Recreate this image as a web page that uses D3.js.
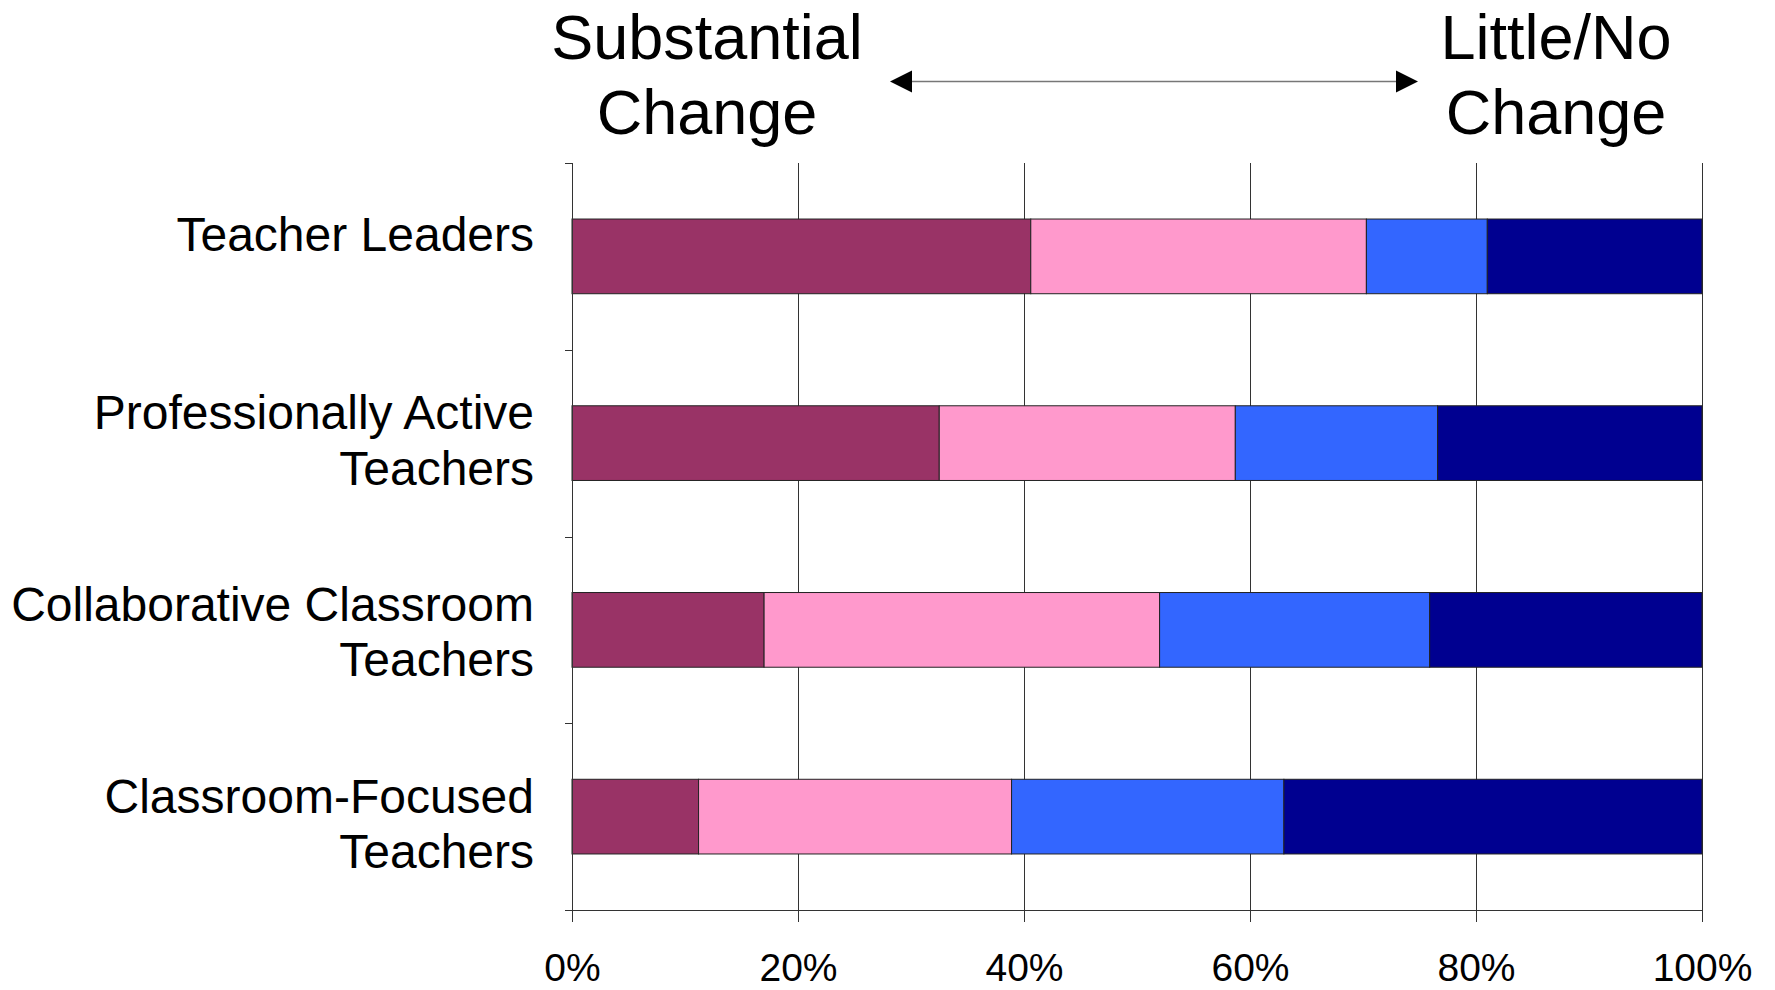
<!DOCTYPE html>
<html>
<head>
<meta charset="utf-8">
<script src="https://cdn.jsdelivr.net/npm/d3@7"></script>
<style>
  html, body { margin: 0; padding: 0; background: #fff; }
  svg { display: block; font-family: "Liberation Sans", Arial, Helvetica, sans-serif; }
</style>
</head>
<body>
<svg id="chart" width="1775" height="990"></svg>
<script>
// ---- Data ----
const categories = ["Teacher Leaders", "Professionally Active Teachers", "Collaborative Classroom Teachers", "Classroom-Focused Teachers"];
const categoryLines = [["Teacher Leaders"], ["Professionally Active", "Teachers"], ["Collaborative Classroom", "Teachers"], ["Classroom-Focused", "Teachers"]];
const seriesKeys = ["level1", "level2", "level3", "level4"];
const level1 = [40.6, 32.5, 17.0, 11.2];
const level2 = [29.7, 26.2, 35.0, 27.7];
const level3 = [10.7, 17.9, 23.9, 24.1];
const level4 = [19.0, 23.4, 24.1, 37.0];
const seriesColors = ["#993366", "#FF99CC", "#3366FF", "#000090"];
const tickValues = [0, 20, 40, 60, 80, 100];
const tickLabels = ["0%", "20%", "40%", "60%", "80%", "100%"];
const leftTitle = ["Substantial", "Change"];
const rightTitle = ["Little/No", "Change"];

// ---- Layout ----
const svg = d3.select("#chart");
const plot = { left: 572, right: 1702, top: 163, bottom: 910 };

const rows = categories.map((c, i) => ({
  category: c, level1: level1[i], level2: level2[i], level3: level3[i], level4: level4[i]
}));

const x = d3.scaleLinear().domain([0, 100]).range([plot.left, plot.right]);
const y = d3.scaleBand().domain(categories).range([plot.top, plot.bottom])
  .paddingInner(0.6).paddingOuter(0.3);
const color = d3.scaleOrdinal().domain(seriesKeys).range(seriesColors);

// gridlines
svg.append("g").selectAll("line")
  .data(tickValues.filter(v => v > 0))
  .join("line")
  .attr("x1", d => Math.round(x(d)) + 0.5).attr("x2", d => Math.round(x(d)) + 0.5)
  .attr("y1", plot.top).attr("y2", plot.bottom)
  .attr("stroke", "#333").attr("stroke-width", 1);

// bars
const stacked = d3.stack().keys(seriesKeys)(rows);
svg.append("g").selectAll("g")
  .data(stacked)
  .join("g")
  .attr("fill", d => color(d.key))
  .selectAll("rect")
  .data(d => d)
  .join("rect")
  .attr("x", d => x(d[0]))
  .attr("y", d => y(d.data.category))
  .attr("width", d => x(d[1]) - x(d[0]))
  .attr("height", y.bandwidth())
  .attr("stroke", "#222")
  .attr("stroke-width", 1);

// bottom axis
const xAxis = d3.axisBottom(x).tickValues(tickValues)
  .tickFormat((d, i) => tickLabels[i]).tickSize(12).tickSizeOuter(0).tickPadding(31);
const gx = svg.append("g").attr("transform", `translate(0,${plot.bottom})`).call(xAxis);
gx.select(".domain").attr("stroke", "#333");
gx.selectAll(".tick line").attr("stroke", "#333");
gx.selectAll(".tick text")
  .attr("font-size", 39).attr("fill", "#000")
  .attr("font-family", "'Liberation Sans', Arial, sans-serif");

// left axis (ticks at category boundaries)
const step = y.step();
const boundaries = d3.range(categories.length + 1).map(i =>
  i < categories.length ? y(categories[i]) - y.paddingOuter() * step
                        : y(categories[i - 1]) + y.bandwidth() + y.paddingOuter() * step);
const gy = svg.append("g");
gy.append("line")
  .attr("x1", plot.left + 0.5).attr("x2", plot.left + 0.5)
  .attr("y1", plot.top).attr("y2", plot.bottom)
  .attr("stroke", "#333");
gy.selectAll("line.tk").data(boundaries).join("line").attr("class", "tk")
  .attr("x1", plot.left - 7).attr("x2", plot.left)
  .attr("y1", d => Math.round(d) + 0.5).attr("y2", d => Math.round(d) + 0.5)
  .attr("stroke", "#333");

// category labels
const labelDy = [-5, -14, -9, -4];
const lineGap = 55.5;
const labelX = plot.left - 38;
const labels = svg.append("g")
  .attr("font-size", 48).attr("text-anchor", "end").attr("fill", "#000");
categories.forEach((c, i) => {
  const cy = y(c) + y.bandwidth() / 2 + labelDy[i];
  const t = labels.append("text").attr("x", labelX).attr("y", cy);
  categoryLines[i].forEach((ln, j) => {
    t.append("tspan").attr("x", labelX).attr("y", cy + j * lineGap).text(ln);
  });
});

// header titles
function title(lines, cx) {
  const t = svg.append("text").attr("font-size", 63).attr("text-anchor", "middle").attr("fill", "#000");
  lines.forEach((ln, j) => t.append("tspan").attr("x", cx).attr("y", 59 + j * 75).text(ln));
}
title(leftTitle, 707);
title(rightTitle, 1556);

// double arrow
const ay = 81.5;
svg.append("line").attr("x1", 910).attr("x2", 1398).attr("y1", ay).attr("y2", ay)
  .attr("stroke", "#777").attr("stroke-width", 1.5);
svg.append("path").attr("d", `M890,${ay} L912,${ay - 11} L912,${ay + 11} Z`).attr("fill", "#000");
svg.append("path").attr("d", `M1418,${ay} L1396,${ay - 11} L1396,${ay + 11} Z`).attr("fill", "#000");
</script>
</body>
</html>
